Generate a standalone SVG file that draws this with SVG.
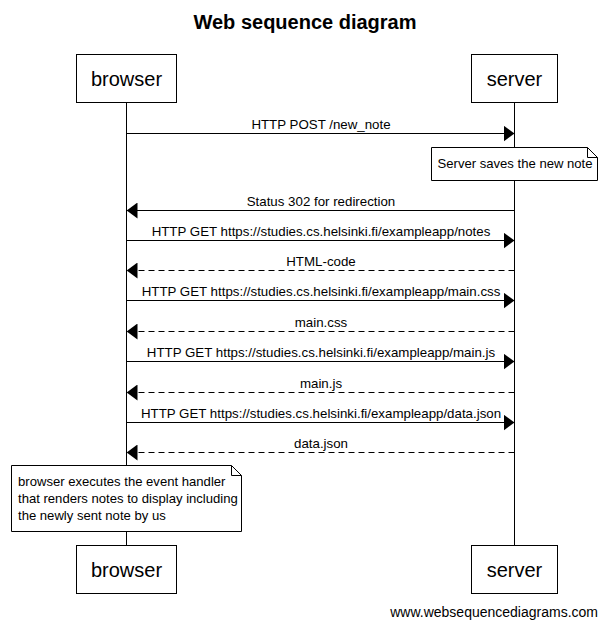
<svg xmlns="http://www.w3.org/2000/svg" width="607" height="627" viewBox="0 0 607 627">
<defs>
<style>
text{font-family:"Liberation Sans",Arial,sans-serif;fill:#000}
.actor rect{fill:#fff;stroke:#000;stroke-width:1}
.actor text{font-size:20px;text-anchor:middle}
.life{stroke:#000;stroke-width:1}
.msg{stroke:#000;stroke-width:1;fill:none}
.dash{stroke-dasharray:6,4}
.lbl{font-size:13.3px;text-anchor:middle}
.note path{fill:#fff;stroke:#000;stroke-width:1}
.note text{font-size:13.1px}
</style>
<marker id="ah" viewBox="0 0 11 16" refX="11" refY="8" markerWidth="11" markerHeight="16" markerUnits="userSpaceOnUse" orient="auto">
<path d="M0,0 L11,8 L0,16 Z" fill="#000"/>
</marker>
</defs>
<rect width="607" height="627" fill="#fff"/>
<text x="305" y="29" font-size="20" font-weight="bold" text-anchor="middle">Web sequence diagram</text>
<g id="lifelines">
<line class="life" x1="126.5" y1="103" x2="126.5" y2="545"/>
<line class="life" x1="514.5" y1="103" x2="514.5" y2="545"/>
</g>
<g id="connectors">
<line class="msg" x1="126.5" y1="133.5" x2="514.5" y2="133.5" marker-end="url(#ah)"/>
<text class="lbl" x="321" y="129">HTTP POST /new_note</text>
<line class="msg" x1="514.5" y1="210.5" x2="126.5" y2="210.5" marker-end="url(#ah)"/>
<text class="lbl" x="321" y="206">Status 302 for redirection</text>
<line class="msg" x1="126.5" y1="240.5" x2="514.5" y2="240.5" marker-end="url(#ah)"/>
<text class="lbl" x="321" y="236">HTTP GET https://studies.cs.helsinki.fi/exampleapp/notes</text>
<line class="msg dash" x1="514.5" y1="270.5" x2="126.5" y2="270.5" marker-end="url(#ah)"/>
<text class="lbl" x="321" y="266">HTML-code</text>
<line class="msg" x1="126.5" y1="300.5" x2="514.5" y2="300.5" marker-end="url(#ah)"/>
<text class="lbl" x="321" y="296">HTTP GET https://studies.cs.helsinki.fi/exampleapp/main.css</text>
<line class="msg dash" x1="514.5" y1="331.5" x2="126.5" y2="331.5" marker-end="url(#ah)"/>
<text class="lbl" x="321" y="327">main.css</text>
<line class="msg" x1="126.5" y1="361.5" x2="514.5" y2="361.5" marker-end="url(#ah)"/>
<text class="lbl" x="321" y="357">HTTP GET https://studies.cs.helsinki.fi/exampleapp/main.js</text>
<line class="msg dash" x1="514.5" y1="392.5" x2="126.5" y2="392.5" marker-end="url(#ah)"/>
<text class="lbl" x="321" y="388">main.js</text>
<line class="msg" x1="126.5" y1="422.5" x2="514.5" y2="422.5" marker-end="url(#ah)"/>
<text class="lbl" x="321" y="418">HTTP GET https://studies.cs.helsinki.fi/exampleapp/data.json</text>
<line class="msg dash" x1="514.5" y1="452.5" x2="126.5" y2="452.5" marker-end="url(#ah)"/>
<text class="lbl" x="321" y="448">data.json</text>
</g>
<g id="browser-top" class="actor"><rect x="76.5" y="54.5" width="100" height="48"/><text x="126.5" y="85.5">browser</text></g>
<g id="server-top" class="actor"><rect x="471.5" y="54.5" width="86" height="48"/><text x="514.5" y="85.5">server</text></g>
<g id="note-server" class="note">
<path d="M431.5,147.5 H587.5 L597.5,157.5 V180.5 H431.5 Z M587.5,147.5 V157.5 H597.5"/>
<text x="437.5" y="168">Server saves the new note</text>
</g>
<g id="note-browser" class="note">
<path d="M11.5,465.5 H231.5 L241.5,475.5 V531.5 H11.5 Z M231.5,465.5 V475.5 H241.5"/>
<text x="18" y="486">browser executes the event handler</text>
<text x="18" y="503">that renders notes to display including</text>
<text x="18" y="520">the newly sent note by us</text>
</g>
<g id="browser-bottom" class="actor"><rect x="76.5" y="545.5" width="100" height="48"/><text x="126.5" y="576.5">browser</text></g>
<g id="server-bottom" class="actor"><rect x="471.5" y="545.5" width="86" height="48"/><text x="514.5" y="576.5">server</text></g>
<text x="598" y="617" font-size="14" text-anchor="end">www.websequencediagrams.com</text>
</svg>
